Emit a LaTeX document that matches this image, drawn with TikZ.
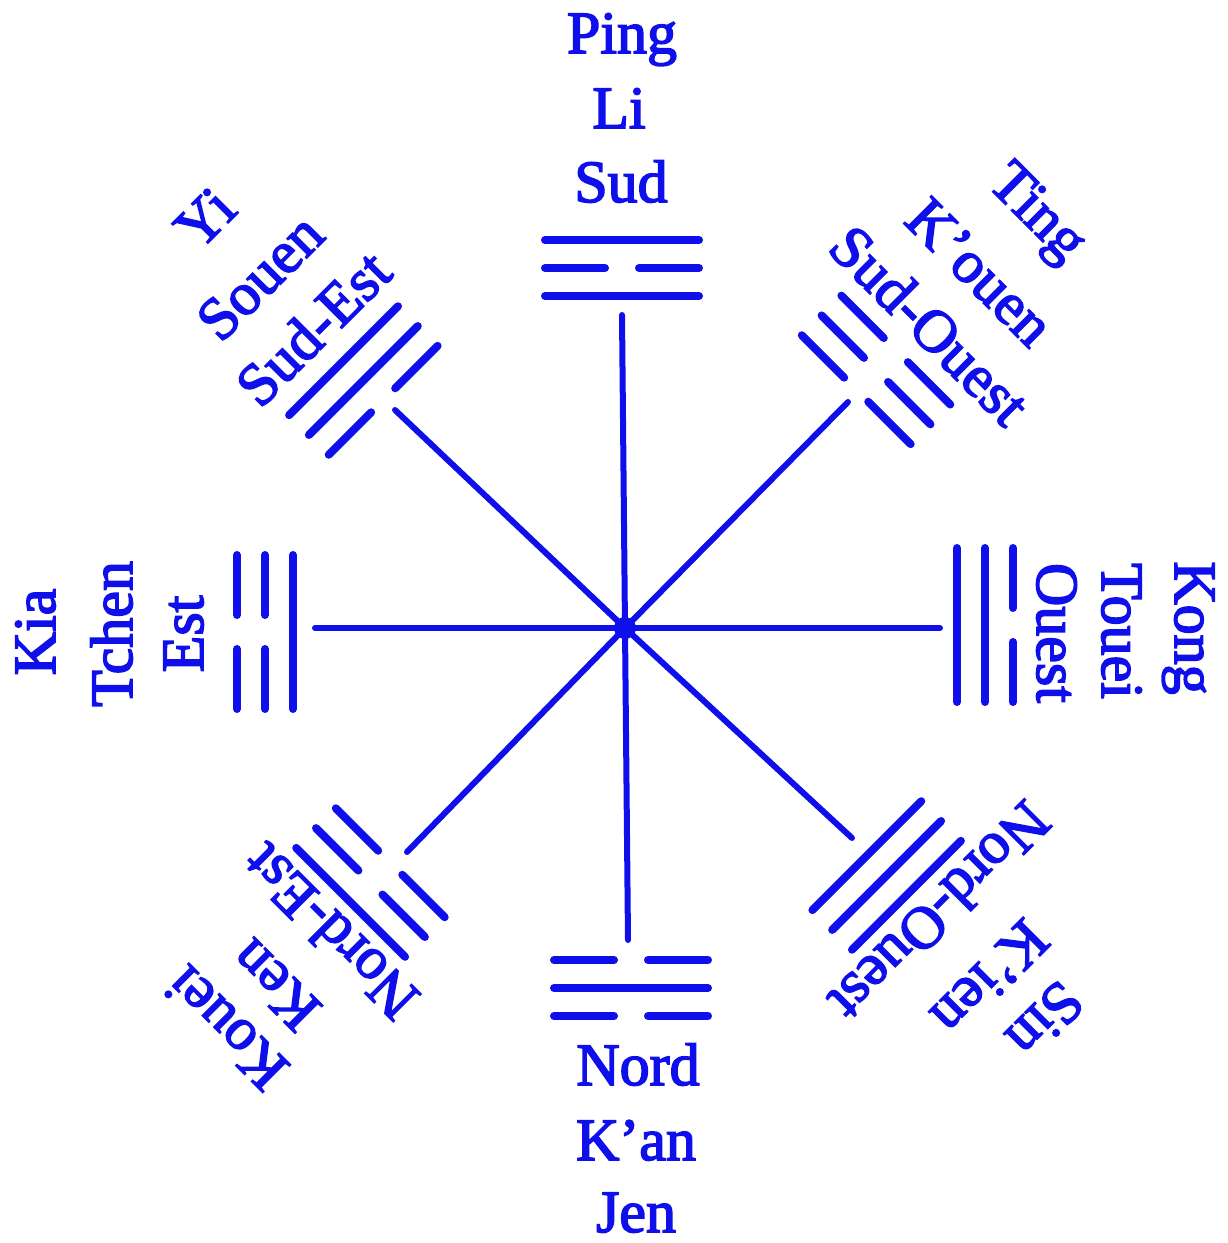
\documentclass[tikz,border=0pt]{standalone}
\usepackage{fontspec}
\newfontfamily\lblfont[FakeBold=2.6]{Liberation Serif}
\definecolor{ink}{RGB}{15,15,235}
\newcommand\trigram[5]{%
  \begin{scope}[shift={(C)},rotate=#1]
  \foreach \d/\t in {332/#3,360/#4,388/#5}{%
    \ifnum\t=1
      \draw[tline] (\d,{#2-77}) -- (\d,{#2+77});
    \else
      \draw[tline] (\d,{#2-77}) -- (\d,{#2-17}) (\d,{#2+17}) -- (\d,{#2+77});
    \fi}
  \end{scope}}
\begin{document}
\begin{tikzpicture}[x=1bp,y=1bp,
  tline/.style={draw=ink, line width=8bp, line cap=round},
  spoke/.style={draw=ink, line width=6bp, line cap=round},
  lbl/.style={text=ink, font=\lblfont\fontsize{60.2}{66}\selectfont, inner sep=0pt}]
\useasboundingbox (0,0) rectangle (1228,1243);
\coordinate (C) at (625,615);
% spoke ends
\coordinate (N) at (622,928);
\coordinate (S) at (628,303);
\coordinate (W) at (315,615);
\coordinate (E) at (940,615);
\coordinate (NW) at (395,833);
\coordinate (NE) at (848,841);
\coordinate (SW) at (407,391);
\coordinate (SE) at (852,405);
\foreach \p in {N,S,W,E,NW,NE,SW,SE}{\draw[spoke] (C) -- (\p);}
\fill[ink] (C) circle (11);
% trigrams: angle, shift, inner, middle, outer (1 = solid)
\trigram{90}{3}{1}{0}{1}
\trigram{135}{10}{0}{1}{1}
\trigram{45}{5}{0}{0}{0}
\trigram{180}{4}{1}{0}{0}
\trigram{0}{3}{1}{1}{0}
\trigram{225}{0}{0}{0}{1}
\trigram{315}{10}{1}{1}{1}
\trigram{270}{6}{0}{1}{0}
% top
\node[lbl,anchor=base] (sud) at (621,1041) {Sud};
\node[lbl,anchor=base] (li) at (619,1115) {Li};
\node[lbl,anchor=base] (ping) at (622,1190) {Ping};
% bottom
\node[lbl,anchor=base] (nord) at (638,158) {Nord};
\node[lbl,anchor=base] (kan) at (636,83) {K’an};
\node[lbl,anchor=base] (jen) at (636,11) {Jen};
% left
\node[lbl,anchor=base,rotate=90] (est) at (203,609) {Est};
\node[lbl,anchor=base,rotate=90] (tchen) at (132,609) {Tchen};
\node[lbl,anchor=base,rotate=90] (kia) at (55,611) {Kia};
% right
\node[lbl,anchor=base,rotate=-90] (ouest) at (1037,610) {Ouest};
\node[lbl,anchor=base,rotate=-90] (touei) at (1102,612) {Touei};
\node[lbl,anchor=base,rotate=-90] (kong) at (1175,615) {Kong};
% upper left
\node[lbl,rotate=45] (sudest) at (313,915) {Sud-Est};
\node[lbl,rotate=45] (souen) at (260,966) {Souen};
\node[lbl,rotate=45] (yi) at (205,1025) {Yi};
% upper right
\node[lbl,rotate=-45] (sudouest) at (930,918) {Sud-Ouest};
\node[lbl,rotate=-45] (kouen) at (980,971) {K’ouen};
\node[lbl,rotate=-45] (ting) at (1035,1028) {Ting};
% lower left
\node[lbl,rotate=135] (nordest) at (330,311) {Nord-Est};
\node[lbl,rotate=135] (ken) at (275,258) {Ken};
\node[lbl,rotate=135] (kouei) at (226,215) {Kouei};
% lower right
\node[lbl,rotate=-135] (nordouest) at (940,331) {Nord-Ouest};
\node[lbl,rotate=-135] (kien) at (990,265) {K’ien};
\node[lbl,rotate=-135] (sin) at (1045,223) {Sin};
\end{tikzpicture}
\end{document}
